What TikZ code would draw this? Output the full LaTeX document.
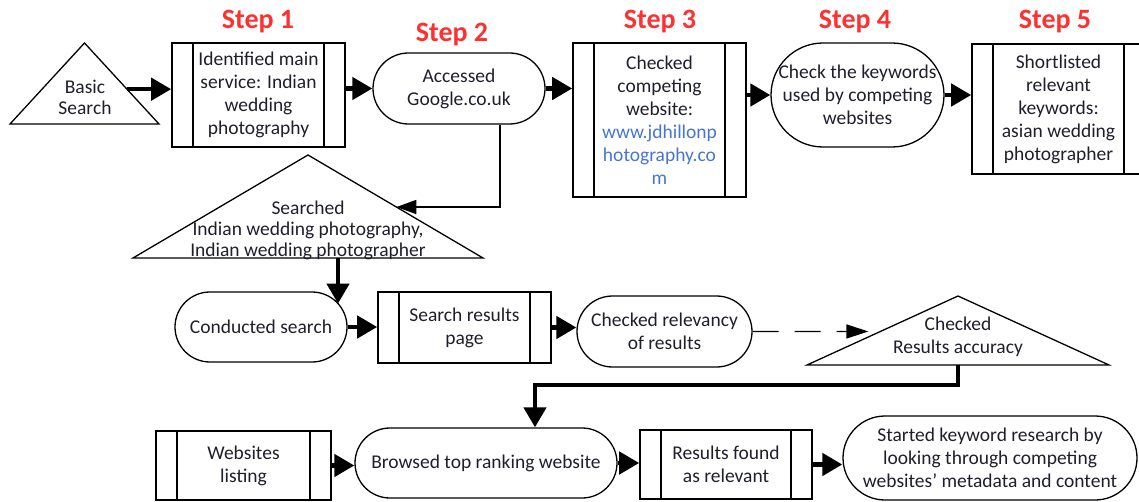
\documentclass[tikz,border=0pt]{standalone}
\usepackage{fontspec}
\setmainfont{Carlito}
\usetikzlibrary{arrows.meta,calc}
\definecolor{txt}{RGB}{30,30,45}
\definecolor{stepred}{RGB}{255,48,48}
\definecolor{linkblue}{RGB}{68,118,210}
\tikzset{
 base/.style={font=\fontsize{19.5}{23}\selectfont, text=txt, align=center, inner sep=0pt},
 proc/.style={base, draw, line width=1.6pt, rectangle,
   path picture={
     \draw[line width=1.6pt] ([xshift=21pt]path picture bounding box.north west) -- ([xshift=21pt]path picture bounding box.south west);
     \draw[line width=1.6pt] ([xshift=-21pt]path picture bounding box.north east) -- ([xshift=-21pt]path picture bounding box.south east);
   }},
 term/.style={base, draw, line width=1.3pt, rectangle, rounded corners=#1},
 trigeo/.style={inner sep=0pt, outer sep=0pt, draw=none},
 trishape/.style={draw, line width=1.3pt, line join=miter},
 tritext/.style={font=\fontsize{19.5}{21}\selectfont, text=txt, align=center, inner sep=0pt},
 steplabel/.style={font=\fontsize{28}{32}\selectfont\bfseries, text=stepred, inner sep=0pt},
 bigarrow/.style={line width=4.5pt, -{Triangle[length=20pt,width=22pt]}},
 thinarrow/.style={line width=1.6pt, -{Triangle[length=20pt,width=14pt]}},
 dasharrow/.style={line width=1.3pt, dash pattern=on 26pt off 16pt, -{Triangle[length=22pt,width=14pt]}},
}
\begin{document}
\begin{tikzpicture}[x=1pt,y=-1pt]
\useasboundingbox (0,0) rectangle (1139,502);

% step labels
\node[steplabel] (s1) at (258,22) {Step 1};
\node[steplabel] (s2) at (452,35) {Step 2};
\node[steplabel] (s3) at (660,22) {Step 3};
\node[steplabel] (s4) at (855,22) {Step 4};
\node[steplabel] (s5) at (1055,22) {Step 5};

% triangles (geometry holders)
\node[trigeo, minimum width=149pt, minimum height=81pt] (bs) at (84.5,83.5) {};
\draw[trishape] (bs.south west) -- (bs.north) -- (bs.south east) -- cycle;
\node[tritext] (bst) at (85,97) {Basic\\Search};

\node[trigeo, minimum width=350pt, minimum height=103pt] (sr) at (308,206.5) {};
\draw[trishape] (sr.south west) -- (sr.north) -- (sr.south east) -- cycle;
\node[tritext] (srt) at (308,230) {Searched\\Indian wedding photography,\\Indian wedding photographer};

\node[trigeo, minimum width=302pt, minimum height=69pt] (ca) at (958,330.5) {};
\draw[trishape] (ca.south west) -- (ca.north) -- (ca.south east) -- cycle;
\node[tritext, font=\fontsize{19.5}{23}\selectfont] (cat) at (958,337) {Checked\\Results accuracy};

% top row
\node[proc, minimum width=173pt, minimum height=104pt] (b1) at (258.5,95) {Identified main\\service: Indian\\wedding\\photography};
\node[term=35.5pt, minimum width=172pt, minimum height=71pt] (o2) at (459,88.5) {Accessed\\Google.co.uk};
\node[proc, minimum width=173pt, minimum height=154pt] (b3) at (659.5,120) {Checked\\competing\\website:\\\textcolor{linkblue}{www.jdhillonp}\\\textcolor{linkblue}{hotography.co}\\\textcolor{linkblue}{m}};
\node[term=52pt, minimum width=173pt, minimum height=104pt] (o4) at (857.5,95) {Check the keywords\\used by competing\\websites};
\node[proc, minimum width=173pt, minimum height=130pt] (b5) at (1058.5,109) {Shortlisted\\relevant\\keywords:\\asian wedding\\photographer};

% middle row
\node[term=35pt, minimum width=172pt, minimum height=70pt] (cs) at (261,327) {Conducted search};
\node[proc, minimum width=173pt, minimum height=71pt] (srp) at (464.5,327.5) {Search results\\page};
\node[term=35.5pt, minimum width=175pt, minimum height=71pt] (cr) at (664.5,331.5) {Checked relevancy\\of results};

% bottom row
\node[proc, minimum width=175pt, minimum height=69pt] (wl) at (243.5,465.5) {Websites\\listing};
\node[term=35pt, minimum width=262pt, minimum height=70pt] (bt) at (486,463) {Browsed top ranking website};
\node[proc, minimum width=172pt, minimum height=69pt] (rf) at (726,464.5) {Results found\\as relevant};
\node[term=42pt, minimum width=294pt, minimum height=84pt] (fo) at (990,458) {Started keyword research by\\looking through competing\\websites’ metadata and content};

% helper coordinates
\coordinate (bsR) at ($(bs.north)!0.57!(bs.south east)$);
\coordinate (srR) at ($(sr.north)!0.505!(sr.south east)$);
\coordinate (srB) at ($(sr.south)+(30,0)$);
\coordinate (csT) at ($(cs.center)+(77,-23.4)$);
\coordinate (caL) at ($(ca.north)!0.514!(ca.south west)$);

% connectors
\draw[bigarrow] (bsR) -- (bsR -| b1.west);
\draw[bigarrow] (b1.east |- o2.west) -- (o2.west);
\draw[bigarrow] (o2.east) -- (o2.east -| b3.west);
\draw[bigarrow] (b3.east |- o4.west) -- (o4.west);
\draw[bigarrow] (o4.east) -- (o4.east -| b5.west);
\draw[thinarrow] ([xshift=41pt]o2.south) |- (srR);
\draw[bigarrow] (srB) -- (csT);
\draw[bigarrow] (cs.east) -- (cs.east -| srp.west);
\draw[bigarrow] (srp.east) -- (srp.east -| cr.west);
\draw[dasharrow, shorten >=12pt] (cr.east) -- (caL);
\draw[bigarrow] (ca.south) -- ++(0,20) -| ([xshift=49pt]bt.north);
\draw[bigarrow] (wl.east) -- (wl.east -| bt.west);
\draw[bigarrow] (bt.east) -- (bt.east -| rf.west);
\draw[bigarrow] (rf.east) -- (rf.east -| fo.west);
\end{tikzpicture}
\end{document}
